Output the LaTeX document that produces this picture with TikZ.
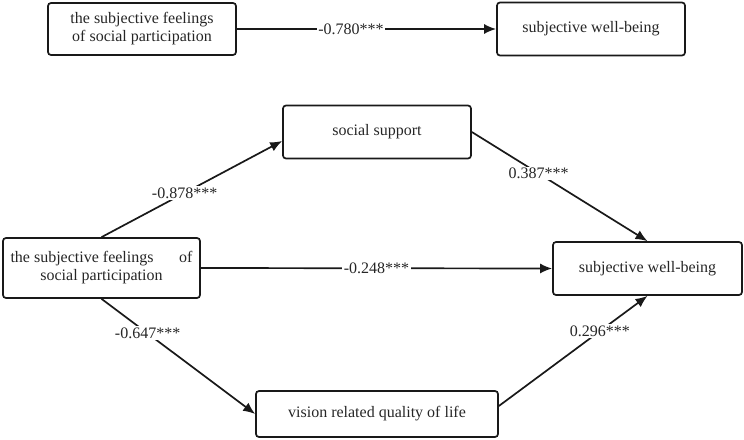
\documentclass[tikz,border=0pt]{standalone}
\usepackage{fontspec}
\setmainfont{Liberation Serif}
\usetikzlibrary{arrows.meta,calc}
\begin{document}
\begin{tikzpicture}[x=1pt,y=-1pt,
  every node/.style={font=\fontsize{16}{18}\selectfont, text=black!85},
  vbox/.style={draw=black!90, line width=1.7pt, rounded corners=3pt, align=center, inner sep=2pt},
  conn/.style={draw=black!90, line width=1.7pt, -{Latex[length=12pt,width=10pt]}},
  coef/.style={fill=white, inner sep=1.5pt}]
\useasboundingbox (0,0) rectangle (744,439);
\node[vbox, minimum width=188pt, minimum height=52pt] (a1) at (142,29) {the subjective feelings\\of social participation};
\node[vbox, minimum width=188pt, minimum height=53pt] (a2) at (591,29) {subjective well-being};
\node[vbox, minimum width=188pt, minimum height=53pt] (ss) at (377,132) {social support};
\node[vbox, minimum width=197pt, minimum height=60pt] (L) at (101.5,268) {the subjective feelings\hspace{1.6em}of\\social participation};
\node[vbox, minimum width=189pt, minimum height=53pt] (R) at (647.5,268.5) {subjective well-being};
\node[vbox, minimum width=242pt, minimum height=46pt] (V) at (377,414) {vision related quality of life};
\coordinate (ssin) at ($(ss.west)+(0,9)$);
\coordinate (vout) at ($(V.east)+(0,-8)$);
\draw[conn] (a1.east) -- node[coef, pos=0.44] (c1) {-0.780***} (a2.west);
\draw[conn] (L.north) -- node[coef, pos=0.46] (c2) {-0.878***} (ssin);
\draw[conn] (ss.east) -- node[coef, pos=0.38] (c3) {0.387***} (R.north);
\draw[conn] (L.east) -- node[coef, pos=0.5] (c4) {-0.248***} (R.west);
\draw[conn] (L.south) -- node[coef, pos=0.3] (c5) {-0.647***} (V.west);
\draw[conn] (vout) -- node[coef, pos=0.68] (c6) {0.296***} (R.south);
\end{tikzpicture}
\end{document}
